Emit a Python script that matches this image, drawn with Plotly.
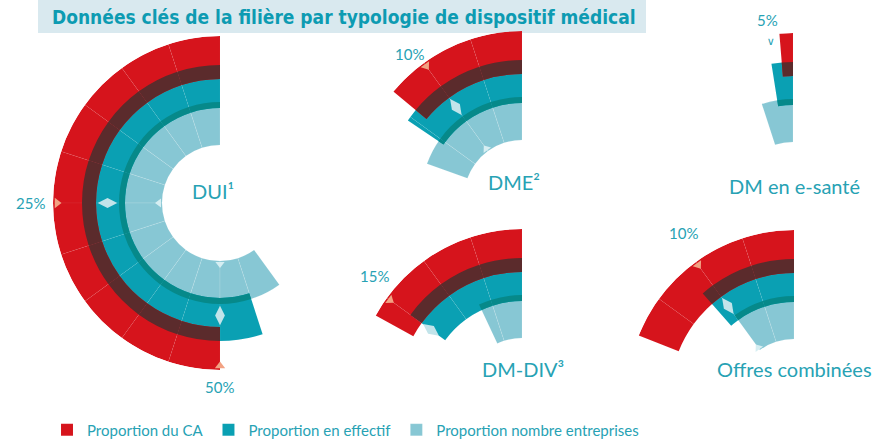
import math
import plotly.graph_objects as go

# ---------------- data ----------------
categories = ["DUI¹", "DME²", "DM en e-santé", "DM-DIV³", "Offres combinées"]
part_ca = [50, 14, 1.3, 17, 19]              # % (arc length, outer ring)
part_effectif = [55, 15.5, 2.5, 15, 11.5]    # % (middle ring)
part_entreprises = [60, 19.5, 5, 7, 10]      # % (inner ring)
reperes = [[25, 50], [10], [5], [15], [10]]  # scale marks shown on each chart
repere_labels = [["25%", "50%"], ["10%"], ["5%"], ["15%"], ["10%"]]
series_names = ["Proportion du CA", "Proportion en effectif", "Proportion nombre entreprises"]
title_text = "Données clés de la filière par typologie de dispositif médical"

# ---------------- layout / style config ----------------
W, H = 888, 443
R = 167  # polar radius in px (radial axis range = px units)
centers = [(220, 203), (522, 198), (793, 200), (522, 396), (794, 397)]
full_circle = [True, False, False, False, False]
cat_label_pos = [(213, 191), (514, 182), (794, 186), (523, 369), (794, 369)]
# per mark label: (radius px, angular tweak deg)
label_place = [
    [(190, 0), (184, 0)],
    [(183, 2)],
    [(182, -10)],
    [(190, -3)],
    [(198, -2)],
]
RING_CA = (124, 167)
RING_EFF = (95, 138)
RING_ENT = (58, 101)
OVER_CA_EFF = (124, 138)
OVER_EFF_ENT = (95, 101)

RED = "#d6141c"
BROWN = "#5b2b2c"
TEAL = "#0aa0b3"
DARKTEAL = "#06898a"
LIGHT = "#87c7d4"
TEXT = "#27a2b4"
SALMON = "#f2a283"
DIAMOND = "#c2e4ea"
FONT = "Lato, 'Open Sans', sans-serif"

fig = go.Figure()


def segments(v, step=5.0):
    th, wd = [], []
    k = 0
    while k * step < v - 1e-9:
        a = k * step
        b = min(v, a + step)
        th.append((a + b) / 2 * 3.6)
        wd.append((b - a) * 3.6)
        k += 1
    return th, wd


def add_ring(value, ring, color, line, sub, name=None, legend=False, rank=None):
    th, wd = segments(value)
    n = len(th)
    fig.add_trace(go.Barpolar(
        theta=th, width=wd, r=[ring[1] - ring[0]] * n, base=[ring[0]] * n,
        marker=dict(color=color, line=dict(color=line, width=0.5)),
        subplot=sub, name=name if name else "", showlegend=legend,
        legendrank=rank if rank else 1000, hoverinfo="skip"))


def to_paper(i, r, theta_deg):
    cx, cy = centers[i]
    t = math.radians(theta_deg)
    return (cx - r * math.sin(t)) / W, 1 - (cy - r * math.cos(t)) / H


polar_layouts = {}
annotations = []
for i, cat in enumerate(categories):
    sub = "polar" if i == 0 else f"polar{i + 1}"
    cx, cy = centers[i]
    if full_circle[i]:
        dom_x = [(cx - R) / W, (cx + R) / W]
        dom_y = [(H - cy - R) / H, (H - cy + R) / H]
        sector = [0, 360]
    else:
        dom_x = [(cx - R) / W, cx / W]
        dom_y = [(H - cy) / H, (H - cy + R) / H]
        sector = [90, 180]
    polar_layouts[sub] = dict(
        domain=dict(x=dom_x, y=dom_y), sector=sector, bgcolor="rgba(0,0,0,0)",
        barmode="overlay",
        radialaxis=dict(visible=False, range=[0, R]),
        angularaxis=dict(visible=False, rotation=90, direction="counterclockwise"))

    first = i == 0
    add_ring(part_entreprises[i], RING_ENT, LIGHT, "rgba(255,255,255,0.25)", sub,
             series_names[2], first, 3)
    add_ring(part_effectif[i], RING_EFF, TEAL, "rgba(255,255,255,0.10)", sub,
             series_names[1], first, 2)
    add_ring(part_ca[i], RING_CA, RED, "rgba(255,255,255,0.09)", sub,
             series_names[0], first, 1)
    add_ring(min(part_effectif[i], part_entreprises[i]), OVER_EFF_ENT, DARKTEAL,
             "rgba(255,255,255,0.0)", sub)
    add_ring(min(part_ca[i], part_effectif[i]), OVER_CA_EFF, BROWN,
             "rgba(255,255,255,0.0)", sub)

    marks = reperes[i]
    thetas = [m * 3.6 for m in marks]
    if i != 2:
        # salmon ticks on outer edge of CA ring
        fig.add_trace(go.Scatterpolar(
            r=[RING_CA[1] - 4] * len(marks), theta=thetas, mode="markers",
            marker=dict(symbol="triangle-down", size=9, color=SALMON,
                        angle=[-t for t in thetas], line=dict(width=0)),
            subplot=sub, showlegend=False, hoverinfo="skip", cliponaxis=False))
        # diamonds on the effectif ring
        fig.add_trace(go.Scatterpolar(
            r=[(RING_EFF[0] + OVER_CA_EFF[0]) / 2 + 3] * len(marks), theta=thetas,
            mode="markers",
            marker=dict(symbol="diamond-tall", size=14, color=DIAMOND,
                        angle=[-t for t in thetas], line=dict(width=0)),
            subplot=sub, showlegend=False, hoverinfo="skip"))
        # small ticks on inner edge of entreprises ring
        ent_marks = [t for t, m in zip(thetas, marks) if m <= part_entreprises[i]]
        fig.add_trace(go.Scatterpolar(
            r=[RING_ENT[0] + 3] * len(ent_marks), theta=ent_marks, mode="markers",
            marker=dict(symbol="triangle-up", size=8, color="#d6eef2",
                        angle=[-t for t in ent_marks], line=dict(width=0)),
            subplot=sub, showlegend=False, hoverinfo="skip"))
    else:
        # thin chevron pointing at the small arc
        rr, dt = label_place[i][0]
        fig.add_trace(go.Scatterpolar(
            r=[rr - 23], theta=[thetas[0] + dt], mode="text", text=["∨"],
            textfont=dict(family="DejaVu Sans", size=11, color=TEXT),
            subplot=sub, showlegend=False, hoverinfo="skip", cliponaxis=False))

    # percentage labels (positioned from the mark value on the polar geometry)
    for (rr, dt), m, lab in zip(label_place[i], marks, repere_labels[i]):
        px, py = to_paper(i, rr, m * 3.6 + dt)
        annotations.append(dict(
            text=lab, x=px, y=py, xref="paper", yref="paper",
            xanchor="center", yanchor="middle", showarrow=False,
            font=dict(family=FONT, size=15, color=TEXT)))

# category labels
for cat, (lx, ly) in zip(categories, cat_label_pos):
    annotations.append(dict(
        text=cat, x=lx / W, y=1 - ly / H, xref="paper", yref="paper",
        xanchor="center", yanchor="middle", showarrow=False,
        font=dict(family=FONT, size=20, color=TEXT)))

layout = dict(
    width=W, height=H, margin=dict(l=0, r=0, t=0, b=0, autoexpand=False),
    paper_bgcolor="white", plot_bgcolor="white",
    title=dict(text=f"<b>{title_text}</b>", x=52 / W, xanchor="left",
               y=1 - 17 / H, yanchor="middle",
               font=dict(family="'Liberation Sans Narrow', 'DejaVu Sans Condensed', sans-serif",
                         size=19, color="#0d9bb2")),
    shapes=[dict(type="rect", xref="paper", yref="paper", x0=38 / W, x1=646 / W,
                 y0=1 - 33 / H, y1=1, fillcolor="#d9e9ef", line=dict(width=0),
                 layer="below")],
    annotations=annotations,
    showlegend=True,
    legend=dict(orientation="h", x=47 / W, y=-0.008, xanchor="left", yanchor="bottom",
                font=dict(family=FONT, size=15, color=TEXT), traceorder="normal",
                itemclick=False, itemdoubleclick=False, bgcolor="rgba(0,0,0,0)"),
)
layout.update(polar_layouts)
fig.update_layout(**layout)

fig.write_html("out.html", config={"displayModeBar": False},
               post_script="document.body.style.margin='0';document.body.style.overflow='hidden';")
